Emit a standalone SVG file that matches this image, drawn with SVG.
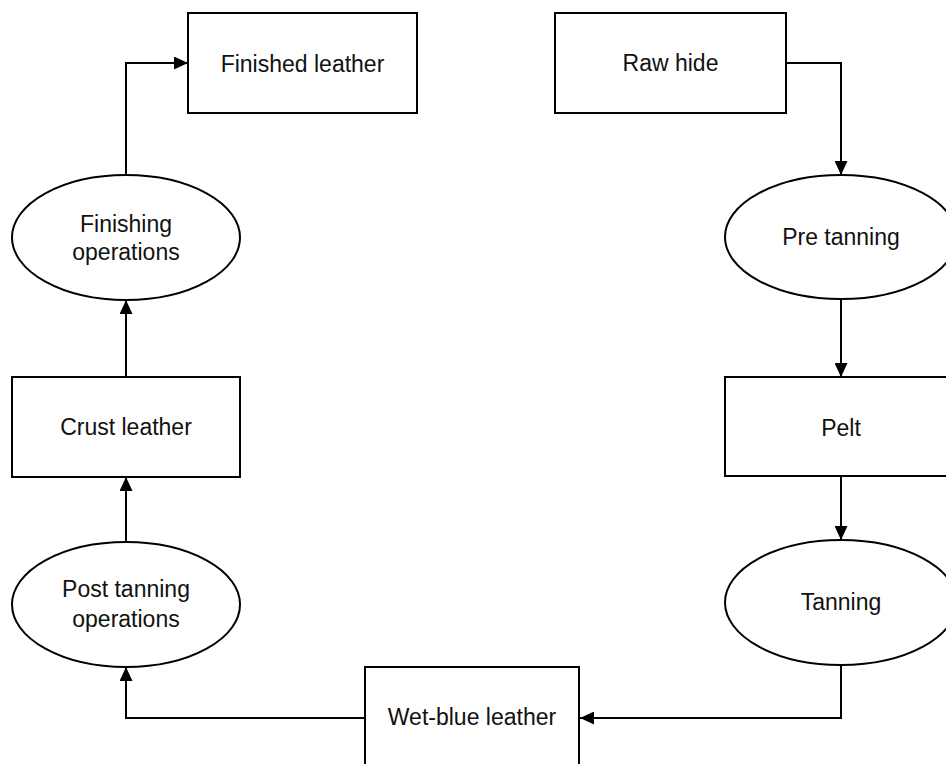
<svg xmlns="http://www.w3.org/2000/svg" width="946" height="764" viewBox="0 0 946 764">
  <style>
    .box { fill: #ffffff; stroke: #000000; stroke-width: 2; }
    .lbl { font-family: "Liberation Sans", Arial, sans-serif; font-size: 23px; fill: #111111; text-anchor: middle; }
    .edge { fill: none; stroke: #000000; stroke-width: 2; marker-end: url(#arrow); }
  </style>
  <defs>
    <marker id="arrow" markerWidth="14" markerHeight="13" refX="14" refY="6.5" orient="auto" markerUnits="userSpaceOnUse">
      <path d="M0,0 L14,6.5 L0,13 Z" fill="#000000"/>
    </marker>
  </defs>

  <rect width="946" height="764" fill="#ffffff"/>

  <!-- connectors -->
  <g id="connectors">
    <path class="edge" d="M786,63 H841 V175"/>
    <path class="edge" d="M841,299 V377"/>
    <path class="edge" d="M841,476 V540"/>
    <path class="edge" d="M841,665 V718 H580"/>
    <path class="edge" d="M365,718 H126 V667"/>
    <path class="edge" d="M126,542 V477"/>
    <path class="edge" d="M126,377 V300"/>
    <path class="edge" d="M126,175 V63 H188"/>
  </g>

  <!-- nodes -->
  <g id="raw-hide">
    <rect class="box" x="555" y="13" width="231" height="100"/>
    <text class="lbl" x="670.5" y="71">Raw hide</text>
  </g>
  <g id="pre-tanning">
    <ellipse class="box" cx="841" cy="237" rx="116" ry="62"/>
    <text class="lbl" x="841" y="245">Pre tanning</text>
  </g>
  <g id="pelt">
    <rect class="box" x="725" y="377" width="231" height="99"/>
    <text class="lbl" x="841" y="436">Pelt</text>
  </g>
  <g id="tanning">
    <ellipse class="box" cx="841" cy="602.5" rx="116" ry="62.5"/>
    <text class="lbl" x="841" y="610">Tanning</text>
  </g>
  <g id="wet-blue-leather">
    <rect class="box" x="365" y="667" width="214" height="100"/>
    <text class="lbl" x="472" y="725">Wet-blue leather</text>
  </g>
  <g id="post-tanning-operations">
    <ellipse class="box" cx="126" cy="604.5" rx="114" ry="62.5"/>
    <text class="lbl" x="126" y="597">Post tanning</text>
    <text class="lbl" x="126" y="627">operations</text>
  </g>
  <g id="crust-leather">
    <rect class="box" x="12" y="377" width="228" height="100"/>
    <text class="lbl" x="126" y="435">Crust leather</text>
  </g>
  <g id="finishing-operations">
    <ellipse class="box" cx="126" cy="237.5" rx="114" ry="62.5"/>
    <text class="lbl" x="126" y="232">Finishing</text>
    <text class="lbl" x="126" y="260">operations</text>
  </g>
  <g id="finished-leather">
    <rect class="box" x="188" y="13" width="229" height="100"/>
    <text class="lbl" x="302.5" y="72">Finished leather</text>
  </g>
</svg>
